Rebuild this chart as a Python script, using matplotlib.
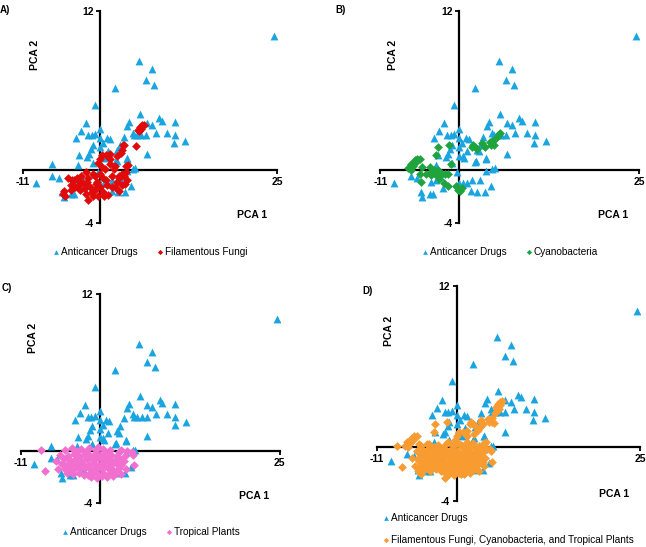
import matplotlib
matplotlib.use("Agg")
import matplotlib.pyplot as plt

plt.rcParams['font.family'] = ['Liberation Sans', 'DejaVu Sans']
plt.rcParams['axes.unicode_minus'] = False

# PCA scores (PCA 1, PCA 2)
drugs_x = [24.6, 5.5, 7.3, 6.5, 7.6, 2.1, -0.7, 5.6, 8.3, 8.7, 10.5, -2.1, 4.1, 3.8, 6.6, 7.3,
           -2.8, 0.0, -1.7, -1.2, -0.7, -3.5, 0.9, 1.3, 3.3, 4.6, 4.8, 5.2, 5.8, 6.5, 7.8, 9.4,
           10.5, 12.0, 10.4, 0.0, 0.4, -1.1, 0.0, 2.8, -1.3, 1.1, 2.4, 2.7, -3.0, -1.6, -1.9, 6.6,
           0.0, 0.6, 3.7, 2.3, -6.8, -3.2, -1.1, 4.9, -9.1,
           -6.8, -5.9, -5.4, -5.2, -4.1, -3.7, -4.0, -3.2, -2.7, -2.3, -0.4, 0.0, 0.5, 1.0, 1.7,
           1.6, 2.5, 3.5, 2.9, 4.4, 3.7, 4.6, 0.5, 2.1, 3.7]
drugs_y = [10.1, 8.2, 7.6, 6.8, 6.4, 6.2, 4.9, 4.2, 3.9, 3.7, 3.6, 3.5, 3.6, 3.3, 3.5, 3.35,
           2.9, 3.1, 2.6, 2.6, 2.7, 2.4, 2.4, 2.3, 2.5, 2.8, 2.6, 2.6, 2.6, 2.6, 2.8, 2.8,
           2.6, 2.2, 2.0, 2.4, 2.0, 1.9, 1.7, 1.9, 1.6, 1.4, 1.5, 1.4, 1.1, 1.15, 0.95, 1.15,
           1.05, 0.85, 0.85, 0.65, 0.4, 0.35, 0.5, 0.1, -1.0,
           -0.5, -0.65, -1.7, -2.1, -1.8, -1.8, -0.9, -0.8, -0.5, -1.4, -0.15, -1.0, -1.0, -1.0, -0.8,
           -1.6, -1.7, -1.7, -0.8, -1.2, -0.1, 0.05, 1.0, 0.55, 0.8]

fungi_x = [5.3, 5.6, 5.9, 6.1, 5.5, 5.8, 5.1, 3.3, 3.1, 2.9, 1.4, 0.8, 0.2, 0.0, -0.3, 1.3,
           2.3, 0.2, 2.1, 3.9, 3.6, 3.0, 2.7, 3.3, 3.8, 2.3, 2.1, 3.0, 0.8, 1.0, 0.4, 1.1,
           0.5, 0.0, -0.5, -0.8, -1.1, -1.7, -2.0, -2.4, -2.7, -2.9, -3.3, -3.8, -4.1, -3.6,
           -2.9, -2.2, -2.0, -1.2, -0.8, -1.7, -1.1, -0.4, -4.1, -5.3, -5.2, -5.0, -4.0, -1.5,
           -1.9, 0.0, 1.7, 1.9, 3.6, 2.6, 3.2, 1.3, 0.7, -0.6, 1.6, 2.6, -3.1, -4.6, 3.5, 0.3]
fungi_y = [3.0, 3.2, 3.35, 3.4, 2.9, 3.1, 1.8, 1.9, 1.5, 1.25, 1.2, 1.1, 1.1, 0.8, 0.5, 0.8,
           1.0, 0.2, 0.3, 0.35, -0.15, -0.3, -0.65, -0.5, -0.8, -0.9, -1.3, -1.15, -0.8, -1.15, -1.65, -1.9,
           -2.0, -1.3, -0.9, -0.5, -0.3, -0.65, -0.15, -1.0, -0.5, -0.9, -0.65, -0.8, -1.15, -1.3,
           -1.55, -1.4, -1.8, -1.7, -1.5, -2.3, -2.0, -2.0, -1.5, -1.8, -1.6, -2.0, -0.75, -1.3,
           -0.95, -0.3, -0.5, 0.05, 0.3, -0.5, 1.9, 0.4, 0.05, -1.1, -1.3, -1.6, -1.2, -0.6, -1.1, -0.6]

cyano_x = [-7.1, -6.8, -6.5, -6.2, -5.9, -5.5, -6.5, -6.7, -5.2, -5.5, -5.3, -4.1, -4.0, -3.9,
           -3.6, -3.0, -3.0, -2.5, -2.0, -1.6, -2.2, -1.6, -0.4, -0.2, 0.1, 0.4, -3.2, -3.0, -1.4,
           -1.2, 1.7, 1.9, 2.1, 2.4, 3.2, 3.5, 4.2, 4.4, 4.7, 4.8, 5.5, 5.7, 5.2, -6.0, -4.6,
           -3.4, -2.8, -0.5]
cyano_y = [0.1, 0.4, 0.5, 0.7, 0.8, 0.8, 0.3, 0.0, 0.2, -0.3, -0.9, 0.2, -0.15, -0.4,
           0.0, 0.0, -0.5, -0.3, -0.3, -0.3, -1.0, -1.2, -1.3, -1.5, -1.6, -1.4, 1.1, 1.7, 1.9,
           0.4, 1.7, 1.9, 1.7, 1.6, 2.0, 1.7, 2.1, 1.9, 2.2, 1.9, 2.7, 2.8, 2.5, 0.55, -0.3,
           -0.3, -0.7, -1.2]

plants_x = [-8.2, -4.9, -3.8, -2.6, -1.5, -0.6, 0.5, 1.4, 3.0, 3.8, 4.5,
            -5.5, -4.4, -3.6, -2.9, -2.2, -1.4, -0.7, 0.0, 0.8, 1.6, 2.4, 4.6,
            -6.1, -5.0, -4.2, -3.3, -2.6, -1.8, -1.0, -0.3, 0.4, 1.2, 2.0, 2.8, 3.4,
            -5.2, -4.6, -3.9, -3.0, -2.3, -1.5, -0.8, 0.0, 0.7, 1.5, 2.3, 3.0, 4.7,
            -5.8, -4.9, -4.2, -3.5, -2.8, -2.0, -1.2, -0.4, 0.3, 1.1, 1.9, 2.7, 3.7,
            -7.6, -4.5, -3.7, -2.9, -2.2, -1.6, -0.9, -0.1, 0.6, 1.4, 2.2, 3.0,
            -1.2, -0.4, 0.3, 1.0, 1.8,
            -0.2, 0.9, -1.9, 2.6, -3.2, 1.3, -0.6, -2.5, 3.5, -4.0]
plants_y = [0.1, 0.1, 0.2, 0.15, 0.2, 0.1, 0.15, 0.05, 0.1, 0.0, -0.1,
            -0.3, -0.35, -0.25, -0.4, -0.3, -0.35, -0.25, -0.3, -0.4, -0.3, -0.35, -0.3,
            -0.8, -0.6, -0.7, -0.6, -0.75, -0.6, -0.7, -0.55, -0.7, -0.6, -0.75, -0.6, -0.8,
            -1.0, -1.1, -0.95, -1.05, -1.0, -1.1, -0.95, -1.05, -1.0, -1.1, -0.95, -1.1, -1.1,
            -1.4, -1.35, -1.45, -1.3, -1.4, -1.3, -1.45, -1.35, -1.4, -1.3, -1.45, -1.3, -1.4,
            -1.5, -1.7, -1.75, -1.65, -1.8, -1.85, -1.7, -1.8, -1.75, -1.65, -1.7, -1.75,
            -2.0, -2.05, -1.95, -2.0, -1.95,
            0.3, -0.15, -0.05, -0.1, 0.0, -0.85, -1.25, -1.2, -0.35, -1.2]

panel_letters = ['A)', 'B)', 'C)', 'D)']
group_names = ['Filamentous Fungi', 'Cyanobacteria', 'Tropical Plants',
               'Filamentous Fungi, Cyanobacteria, and Tropical Plants']
group_colors = ['#E00A0A', '#1FA33D', '#F26FCF', '#F89B31']
drug_color = '#1BA5E0'

all_x = fungi_x + cyano_x + plants_x
all_y = fungi_y + cyano_y + plants_y
groups = [(fungi_x, fungi_y), (cyano_x, cyano_y), (plants_x, plants_y), (all_x, all_y)]

# axes boxes in figure fraction (left, bottom, width, height)
boxes = [(0.035, 0.593, 0.394, 0.387),
         (0.589, 0.593, 0.400, 0.387),
         (0.032, 0.080, 0.401, 0.382),
         (0.583, 0.084, 0.408, 0.394)]
letter_pos = [(0.0, 0.99), (0.519, 0.99), (0.003, 0.482), (0.561, 0.477)]

fig = plt.figure(figsize=(6.46, 5.47), dpi=100)

for i in range(4):
    ax = fig.add_axes(boxes[i])
    gx, gy = groups[i]
    ax.scatter(drugs_x, drugs_y, marker='^', s=32, color=drug_color, linewidths=0,
               label='Anticancer Drugs', zorder=3)
    ax.scatter(gx, gy, marker='D', s=20, color=group_colors[i], linewidths=0,
               label=group_names[i], zorder=4)
    ax.set_xlim(-11, 25)
    ax.set_ylim(-4, 12)
    ax.spines['left'].set_position(('data', 0))
    ax.spines['bottom'].set_position(('data', 0))
    ax.spines['right'].set_visible(False)
    ax.spines['top'].set_visible(False)
    ax.spines['left'].set_linewidth(1.6)
    ax.spines['bottom'].set_linewidth(1.6)
    ax.set_xticks([-11, 25])
    ax.set_yticks([-4, 12])
    ax.tick_params(direction='out', length=3, width=1.3, labelsize=7.5, pad=2)
    for lab in ax.get_xticklabels() + ax.get_yticklabels():
        lab.set_fontweight('bold')
    ax.patch.set_visible(False)
    ax.text(0.90, 0.035, 'PCA 1', transform=ax.transAxes, ha='center', va='center',
            fontsize=7.5, fontweight='bold')
    ax.text(0.048, 0.79, 'PCA 2', transform=ax.transAxes, ha='center', va='center',
            rotation=90, fontsize=7.5, fontweight='bold')
    if i < 3:
        ax.legend(loc='center', bbox_to_anchor=(0.5, -0.138), ncol=2, frameon=False,
                  fontsize=7.2, handlelength=0.8, handletextpad=0.1, columnspacing=1.8,
                  markerscale=0.6, borderpad=0)
    else:
        ax.legend(loc='upper left', bbox_to_anchor=(0.0, -0.03), ncol=1, frameon=False,
                  fontsize=7.2, handlelength=0.8, handletextpad=0.1, labelspacing=1.25,
                  markerscale=0.6, borderpad=0)
    fig.text(letter_pos[i][0], letter_pos[i][1], panel_letters[i], ha='left', va='top',
             fontsize=7, fontweight='bold')

fig.savefig('out.png', dpi=100)
